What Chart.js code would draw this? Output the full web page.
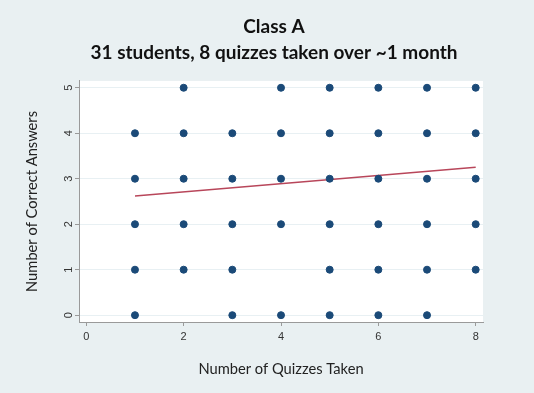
<!DOCTYPE html>
<html>
<head>
<meta charset="utf-8">
<script src="https://cdn.jsdelivr.net/npm/chart.js@4"></script>
<style>
  html, body { margin: 0; padding: 0; background: #e9f0f2; }
  #wrap { width: 534px; height: 393px; }
</style>
</head>
<body>
<div id="wrap"><canvas id="quiz-chart" width="534" height="393"></canvas></div>
<script>
// quizzes taken (x) vs correct answers (y), one point per observed combination
const quizX = [1,1,1,1,1, 2,2,2,2,2, 3,3,3,3,3, 4,4,4,4,4, 5,5,5,5,5,5, 6,6,6,6,6,6, 7,7,7,7,7,7, 8,8,8,8,8];
const correctY = [0,1,2,3,4, 1,2,3,4,5, 0,1,2,3,4, 0,2,3,4,5, 0,1,2,3,4,5, 0,1,2,3,4,5, 0,1,2,3,4,5, 1,2,3,4,5];
// fitted line end points
const fitX = [1, 8];
const fitY = [2.62, 3.25];
const xTicks = [0, 2, 4, 6, 8];
const yTicks = [0, 1, 2, 3, 4, 5];

const plotBg = {
  id: 'plotBg',
  beforeDraw(chart) {
    const {ctx, chartArea: a} = chart;
    ctx.save();
    ctx.fillStyle = '#e9f0f2';
    ctx.fillRect(0, 0, chart.width, chart.height);
    ctx.fillStyle = '#ffffff';
    ctx.fillRect(a.left, a.top, a.right - a.left, a.bottom - a.top);
    ctx.restore();
  }
};

const ctx = document.getElementById('quiz-chart').getContext('2d');
new Chart(ctx, {
  type: 'scatter',
  data: {
    datasets: [
      {
        label: 'Students',
        data: quizX.map((x, i) => ({x: x, y: correctY[i]})),
        backgroundColor: '#1b4a78',
        borderColor: '#1b4a78',
        pointRadius: 3.5,
        pointHoverRadius: 3.5
      },
      {
        type: 'line',
        label: 'Fit',
        data: fitX.map((x, i) => ({x: x, y: fitY[i]})),
        borderColor: '#b8465a',
        borderWidth: 1.5,
        pointRadius: 0,
        fill: false
      }
    ]
  },
  options: {
    responsive: false,
    animation: false,
    layout: { padding: { left: 14, right: 0, top: 0, bottom: 0 } },
    plugins: {
      legend: { display: false },
      tooltip: { enabled: false },
      title: {
        display: true,
        text: ['Class A', '31 students, 8 quizzes taken over ~1 month'],
        color: '#111',
        font: { family: 'Lato', size: 19, weight: 'bold', lineHeight: 1.38 },
        padding: { top: 14, bottom: 14.5 }
      }
    },
    scales: {
      x: {
        type: 'linear',
        min: -0.15,
        max: 8.15,
        afterBuildTicks: s => { s.ticks = xTicks.map(v => ({value: v})); },
        afterFit: s => { s.height = 393 - 322; },
        border: { color: '#9a9a9a', width: 1 },
        grid: { drawOnChartArea: false, color: '#9a9a9a', tickColor: '#9a9a9a', tickLength: 4 },
        ticks: { color: '#333', padding: 4, font: { family: 'Liberation Sans', size: 11 } },
        title: {
          display: true,
          text: 'Number of Quizzes Taken',
          color: '#222',
          font: { family: 'Lato', size: 14.7 },
          padding: { top: 0, bottom: 15.2 }
        }
      },
      y: {
        min: -0.15,
        max: 5.15,
        afterBuildTicks: s => { s.ticks = yTicks.map(v => ({value: v})); },
        afterFit: s => { s.width = 79 - 14; },
        border: { color: '#9a9a9a', width: 1 },
        grid: { color: '#e8f0f3', tickColor: '#9a9a9a', tickLength: 4 },
        ticks: {
          color: '#333', padding: 3, minRotation: 90, maxRotation: 90, crossAlign: 'center',
          font: { family: 'Liberation Sans', size: 11 }
        },
        title: {
          display: true,
          text: 'Number of Correct Answers',
          color: '#222',
          font: { family: 'Lato', size: 14.7 },
          padding: { top: 9.2, bottom: 0 }
        }
      },
      // empty right-hand axis, only reserves the margin right of the plot
      yRight: {
        position: 'right',
        display: true,
        min: -0.15,
        max: 5.15,
        afterFit: s => { s.width = 534 - 483; },
        border: { display: false },
        grid: { display: false },
        ticks: { display: false }
      }
    }
  },
  plugins: [plotBg]
});
</script>
</body>
</html>
